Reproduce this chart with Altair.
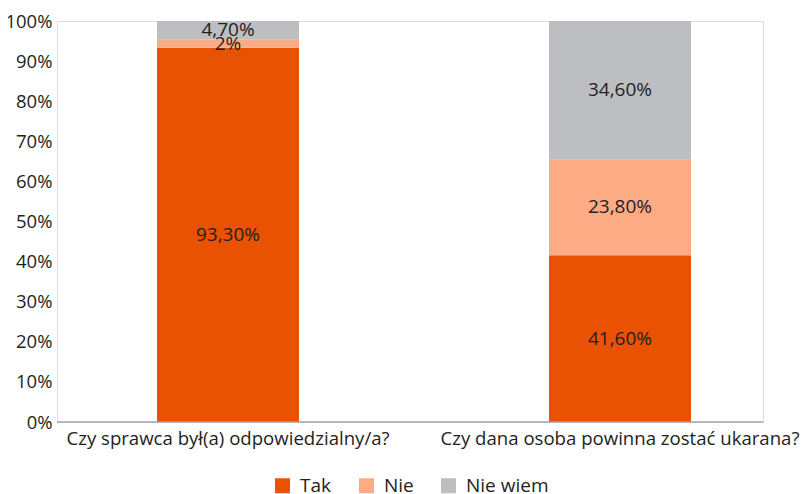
import altair as alt
import pandas as pd

questions = ["Czy sprawca był(a) odpowiedzialny/a?", "Czy dana osoba powinna zostać ukarana?"]
series = ["Tak", "Nie", "Nie wiem"]
values_q1 = [93.3, 2.0, 4.7]
values_q2 = [41.6, 23.8, 34.6]
labels_q1 = ["93,30%", "2%", "4,70%"]
labels_q2 = ["41,60%", "23,80%", "34,60%"]
colors = ["#EA5203", "#FDAB84", "#BDBEC1"]
y_ticks = [0, 10, 20, 30, 40, 50, 60, 70, 80, 90, 100]

rows = []
for q, vals, labs in [(questions[0], values_q1, labels_q1), (questions[1], values_q2, labels_q2)]:
    for i, (s, v, l) in enumerate(zip(series, vals, labs)):
        rows.append({"q": q, "s": s, "v": v, "lab": l, "ord": i})
df = pd.DataFrame(rows)

FONT = "Open Sans"
TXT = "#231F20"
W, H = 706, 401

xscale = alt.Scale(domain=questions, range=[-25, 759], paddingInner=0, paddingOuter=0)
yscale = alt.Scale(domain=[0, 100], nice=False)

base = alt.Chart(df)

bars = base.mark_bar(size=142).encode(
    x=alt.X("q:N", scale=xscale, sort=questions,
            axis=alt.Axis(title=None, domain=False, ticks=False, labelAngle=0,
                          labelFontSize=18.6, labelColor=TXT, labelPadding=7,
                          labelFont=FONT, labelLimit=500)),
    y=alt.Y("v:Q", stack="zero", scale=yscale,
            axis=alt.Axis(title=None, values=y_ticks, domain=False, ticks=False, grid=False,
                          labelExpr="datum.value + '%'", labelFontSize=18.5,
                          labelColor=TXT, labelPadding=5, labelFont=FONT)),
    color=alt.Color("s:N", scale=alt.Scale(domain=series, range=colors),
                    legend=alt.Legend(title=None, orient="none", legendX=216, legendY=455,
                                      direction="horizontal", padding=0,
                                      symbolType="square", symbolSize=225, symbolStrokeWidth=0,
                                      labelFontSize=19, labelColor=TXT, labelFont=FONT,
                                      labelOffset=8, columnPadding=25)),
    order=alt.Order("ord:Q"),
)

texts = base.transform_stack(
    stack="v", groupby=["q"], as_=["v0", "v1"], sort=[alt.SortField("ord", order="ascending")]
).transform_calculate(
    mid="(datum.v0 + datum.v1) / 2"
).mark_text(fontSize=19, color=TXT, font=FONT, baseline="middle").encode(
    x=alt.X("q:N", scale=xscale, sort=questions),
    y=alt.Y("mid:Q", scale=yscale),
    text="lab:N",
)

baseline = alt.Chart(pd.DataFrame({"z": [0]})).mark_rule(color="#A6A6A6", strokeWidth=1.3).encode(
    y=alt.Y("z:Q", scale=yscale),
    x=alt.value(0),
    x2=alt.value(W),
)

chart = alt.layer(bars, baseline, texts).properties(
    width=W, height=H,
    autosize=alt.AutoSizeParams(type="none"),
    padding={"left": 49, "top": 13, "right": 38, "bottom": 76},
).configure_view(stroke=None).configure(font=FONT)

chart.save("out.html", embed_options={"renderer": "svg", "actions": False})
